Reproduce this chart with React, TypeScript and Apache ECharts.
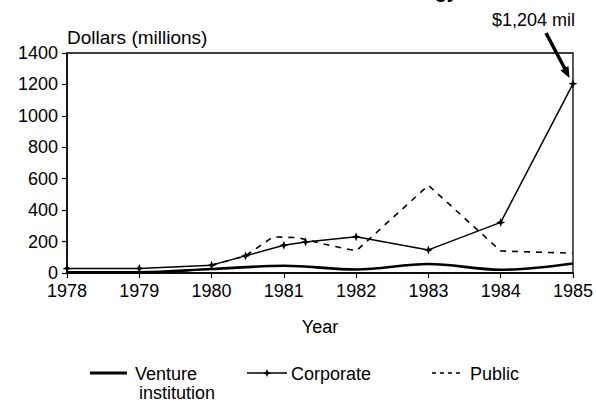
import React, { useEffect, useRef } from "react";
import * as echarts from "echarts";

// Corporate (with star markers)
const corporateYears = [1978, 1979, 1980, 1980.47, 1981, 1981.3, 1982, 1983, 1984, 1985];
const corporateValues = [29, 29, 50, 109, 176, 197, 230, 147, 322, 1204];

// Public (dashed)
const publicYears = [1980, 1980.47, 1980.85, 1981.2, 1981.5, 1982, 1983, 1984, 1985];
const publicValues = [50, 109, 230, 225, 190, 140, 558, 140, 126];

// Venture institution (thick)
const ventureYears = [1978, 1979, 1980, 1981, 1982, 1983, 1984, 1985];
const ventureValues = [5, 5, 25, 46, 22, 57, 21, 61];

const yearTicks = [1978, 1979, 1980, 1981, 1982, 1983, 1984, 1985];
const yTicks = [0, 200, 400, 600, 800, 1000, 1200, 1400];

const FONT = "'Liberation Sans', Arial, Helvetica, sans-serif";
const STAR = "path://M0,-5 L1.4,-1.4 L5,0 L1.4,1.4 L0,5 L-1.4,1.4 L-5,0 L-1.4,-1.4 Z";

const zip = (xs: number[], ys: number[]) => xs.map((x, i) => [x, ys[i]]);

export default function App() {
  const ref = useRef<HTMLDivElement>(null);
  useEffect(() => {
    if (!ref.current) return;
    const chart = echarts.init(ref.current, null, { renderer: "svg" });
    chart.setOption({
      animation: false,
      backgroundColor: "#fff",
      textStyle: { fontFamily: FONT, color: "#000" },
      grid: {
        left: 67,
        right: 23,
        top: 53,
        bottom: 130,
        show: true,
        borderColor: "#000",
        borderWidth: 1.3,
        backgroundColor: "transparent",
      },
      xAxis: {
        type: "value",
        min: yearTicks[0],
        max: yearTicks[yearTicks.length - 1],
        interval: 1,
        name: "Year",
        nameLocation: "middle",
        nameGap: 45,
        nameTextStyle: { fontSize: 18, color: "#000", fontFamily: FONT },
        axisLine: { lineStyle: { color: "#000", width: 1.5 } },
        axisTick: { show: true, length: 5, lineStyle: { color: "#000", width: 1.2 } },
        axisLabel: {
          fontSize: 18,
          color: "#000",
          margin: 9,
          fontFamily: FONT,
          formatter: (v: number) => (yearTicks.includes(v) ? String(v) : ""),
        },
        splitLine: { show: false },
      },
      yAxis: {
        type: "value",
        min: yTicks[0],
        max: yTicks[yTicks.length - 1],
        interval: 200,
        name: "Dollars (millions)",
        nameLocation: "end",
        nameGap: 16,
        nameTextStyle: {
          fontSize: 19,
          color: "#000",
          align: "left",
          verticalAlign: "middle",
          fontFamily: FONT,
        },
        axisLine: { show: true, lineStyle: { color: "#000", width: 1.5 } },
        axisTick: { show: true, length: 5, lineStyle: { color: "#000", width: 1.2 } },
        axisLabel: {
          fontSize: 18,
          color: "#000",
          margin: 9,
          fontFamily: FONT,
          formatter: (v: number) => String(v),
        },
        splitLine: { show: false },
      },
      series: [
        {
          name: "Venture institution",
          type: "line",
          data: zip(ventureYears, ventureValues),
          smooth: 0.35,
          showSymbol: false,
          lineStyle: { color: "#000", width: 2.6 },
          z: 3,
        },
        {
          name: "Public",
          type: "line",
          data: zip(publicYears, publicValues),
          showSymbol: false,
          lineStyle: { color: "#000", width: 1.6, type: [6, 6] },
          z: 2,
        },
        {
          name: "Corporate",
          type: "line",
          data: zip(corporateYears, corporateValues),
          symbol: STAR,
          symbolSize: 9,
          showSymbol: true,
          itemStyle: { color: "#000" },
          lineStyle: { color: "#000", width: 1.5 },
          z: 4,
        },
      ],
      graphic: [
        {
          type: "text",
          x: 458,
          y: 1,
          style: {
            text: "Biotechnology",
            fontSize: 20,
            fontWeight: "bold",
            fontFamily: FONT,
            fill: "#000",
            align: "right",
            verticalAlign: "bottom",
          },
        },
        {
          type: "text",
          x: 492,
          y: 20,
          style: {
            text: "$1,204 mil",
            fontSize: 18,
            fontFamily: FONT,
            fill: "#000",
            align: "left",
            verticalAlign: "middle",
          },
        },
        {
          type: "line",
          shape: { x1: 546, y1: 33, x2: 565, y2: 69 },
          style: { stroke: "#000", lineWidth: 3.5 },
        },
        {
          type: "polygon",
          shape: { points: [[560.5, 70.5], [568.5, 66], [569.5, 78]] },
          style: { fill: "#000" },
        },
        // legend: Venture institution
        {
          type: "line",
          shape: { x1: 90, y1: 373, x2: 127, y2: 373 },
          style: { stroke: "#000", lineWidth: 3 },
        },
        {
          type: "text",
          x: 135,
          y: 374,
          style: { text: "Venture", fontSize: 18, fontFamily: FONT, fill: "#000", verticalAlign: "middle" },
        },
        {
          type: "text",
          x: 139,
          y: 393,
          style: { text: "institution", fontSize: 18, fontFamily: FONT, fill: "#000", verticalAlign: "middle" },
        },
        // legend: Corporate
        {
          type: "line",
          shape: { x1: 247, y1: 373, x2: 287, y2: 373 },
          style: { stroke: "#000", lineWidth: 1.5 },
        },
        {
          type: "polygon",
          shape: {
            points: [[267, 369], [268.2, 371.8], [271, 373], [268.2, 374.2], [267, 377], [265.8, 374.2], [263, 373], [265.8, 371.8]],
          },
          style: { fill: "#000" },
        },
        {
          type: "text",
          x: 291,
          y: 374,
          style: { text: "Corporate", fontSize: 18, fontFamily: FONT, fill: "#000", verticalAlign: "middle" },
        },
        // legend: Public
        {
          type: "line",
          shape: { x1: 432, y1: 373, x2: 461, y2: 373 },
          style: { stroke: "#000", lineWidth: 1.5, lineDash: [4, 4] },
        },
        {
          type: "text",
          x: 470,
          y: 374,
          style: { text: "Public", fontSize: 18, fontFamily: FONT, fill: "#000", verticalAlign: "middle" },
        },
      ],
    });
    return () => chart.dispose();
  }, []);
  return <div ref={ref} style={{ width: 596, height: 403, position: "absolute", left: 0, top: 0 }} />;
}
